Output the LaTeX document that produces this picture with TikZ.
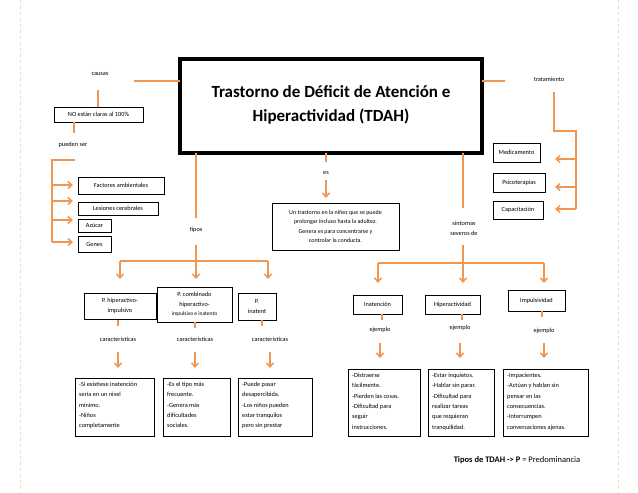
\documentclass[tikz,border=0pt]{standalone}
\usepackage{fontspec}
\setmainfont{Carlito}
\usetikzlibrary{arrows.meta}
\definecolor{org}{RGB}{240,150,80}
\begin{document}
\begin{tikzpicture}[x=1pt,y=-1pt,
 ln/.style={draw=org,line width=1.5pt},
 ar/.style={draw=org,line width=1.5pt,-{Straight Barb[length=4pt,width=7pt]}},
 bx/.style={draw,line width=0.8pt,inner sep=0pt},
 tx/.style={font=\fontsize{6.3}{7.5}\selectfont,align=center},
 tl/.style={font=\fontsize{6.3}{10.3}\selectfont,align=left,anchor=north west,inner sep=0pt}]
\useasboundingbox (0,0) rectangle (638,493);
\draw[org!40,dashed] (20,0)--(20,493) (618,0)--(618,493);
% title
\draw[line width=3.5pt] (180,59) rectangle (482,153);
\node[font=\bfseries\fontsize{17}{24}\selectfont,align=center] (title) at (331,105) {Trastorno de Déficit de Atención e\\Hiperactividad (TDAH)};
\coordinate (tL) at (180,81);
% causas
\node[tx] (causas) at (100,74) {causas};
\draw[ln] (134,81)--(tL);
\draw[ln] (98,90)--(98,107);
\draw[bx] (54,107) rectangle (143,122); \node[tx] (no) at (98.5,114.5) {NO están claras al 100\%};
\draw[ln] (74,122)--(74,133);
\node[tx] (pueden) at (73,145) {pueden ser};
\draw[ln] (75,160)--(52,160)--(52,242);
\foreach \y in {185,201,220,242}{\draw[ar] (52,\y)--(73,\y);}
\draw[bx] (78,177) rectangle (164,194); \node[tx] (fa) at (121,185.5) {Factores ambientales};
\draw[bx] (78,202) rectangle (158,215); \node[tx] (lc) at (118,208.5) {Lesiones cerebrales};
\draw[bx] (78,219) rectangle (111,232); \node[tx] (az) at (94.5,225.5) {Azúcar};
\draw[bx] (78,236) rectangle (111,252); \node[tx] (ge) at (94.5,244) {Genes};
% tipos
\draw[ln] (196,153)--(196,218);
\node[tx] (tipos) at (196,230) {tipos};
\draw[ln] (196,245)--(196,261) (120,261)--(268,261);
\foreach \x in {120,196,268}{\draw[ar] (\x,261)--(\x,279);}
\draw[bx] (84,293) rectangle (156,319); \node[tx,font=\fontsize{6.3}{9.5}\selectfont] at (120,306) {P. hiperactivo-\\impulsivo};
\draw[bx] (157,287) rectangle (232,322); \node[tx,font=\fontsize{6.3}{9.5}\selectfont] at (194.5,304.5) {P. combinado\\hiperactivo-\\{\fontsize{5.5}{6}\selectfont impulsivo e inatento}};
\draw[bx] (238,293) rectangle (276,320); \node[tx,font=\fontsize{6.3}{9.5}\selectfont] at (257,306.5) {P.\\inatent};
\foreach \x/\y in {118/320,195/322,262/320}{\draw[ln] (\x,\y)--(\x,\y+6);}
\foreach \x in {118,195,270}{\node[tx] at (\x,339) {características};\draw[ar] (\x,352)--(\x,368);}
\draw[bx] (75,378) rectangle (154,436); \node[tl] at (79,382) {-Si existiese inatención\\sería en un nivel\\mínimo.\\-Niños\\completamente};
\draw[bx] (163,378) rectangle (230,436); \node[tl] at (167,382) {-Es el tipo más\\frecuente.\\-Genera más\\dificultades\\sociales.};
\draw[bx] (238,378) rectangle (312,436); \node[tl] at (242,382) {-Puede pasar\\desapercibida.\\-Los niños pueden\\estar tranquilos\\pero sin prestar};
% es
\draw[ln] (326,153)--(326,162);
\node[tx] (es) at (326,173) {es};
\draw[ar] (326,180)--(326,198);
\draw[bx] (272,203) rectangle (399,250); \node[tx,font=\fontsize{6}{9.5}\selectfont] (def) at (335.5,226.5) {Un trastorno en la niñez que se puede\\prolongar incluso hasta la adultez.\\Genera es para concentrarse y\\controlar la conducta.};
% tratamiento
\draw[ln] (482,81)--(505,81);
\node[tx] (trat) at (549,79) {tratamiento};
\draw[ln] (554,92)--(554,131)--(576,131)--(576,209);
\foreach \y in {159,187,209}{\draw[ar] (576,\y)--(555,\y);}
\draw[bx] (493,143) rectangle (540,162); \node[tx] at (516.5,152.5) {Medicamento};
\draw[bx] (493,173) rectangle (545,192); \node[tx] at (519,182.5) {Psicoterapias};
\draw[bx] (493,201) rectangle (543,219); \node[tx] at (518,210) {Capacitación};
% sintomas
\draw[ln] (463,153)--(463,208);
\node[tx,font=\fontsize{6.3}{10}\selectfont] (sint) at (464,228) {síntomas\\severos de};
\draw[ln] (463,245)--(463,263) (378,263)--(544,263);
\foreach \x in {378,463,544}{\draw[ar] (\x,263)--(\x,283);}
\draw[bx] (353,295) rectangle (402,314); \node[tx] at (377.5,304.5) {Inatención};
\draw[bx] (425,295) rectangle (480,314); \node[tx] at (452.5,304.5) {Hiperactividad};
\draw[bx] (508,290) rectangle (565,311); \node[tx] at (536.5,300.5) {Impulsividad};
\foreach \x/\y in {382/314,462/314,542/311}{\draw[ln] (\x,\y)--(\x,\y+6);}
\foreach \x/\y in {380/330,460/328,544/331}{\node[tx] at (\x,\y) {ejemplo};\draw[ar] (\x,343)--(\x,358);}
\draw[bx] (348,369) rectangle (420,436); \node[tl] at (352,373) {-Distraerse\\fácilmente.\\-Pierden las cosas.\\-Dificultad para\\seguir\\instrucciones.};
\draw[bx] (428,369) rectangle (494,436); \node[tl] at (432,373) {-Estar inquietos.\\-Hablar sin parar.\\-Dificultad para\\realizar tareas\\que requieran\\tranquilidad.};
\draw[bx] (503,369) rectangle (588,436); \node[tl] at (507,373) {-Impacientes.\\-Actúan y hablan sin\\pensar en las\\consecuencias.\\-Interrumpen\\conversaciones ajenas.};
\node[font=\fontsize{8.5}{10}\selectfont] (foot) at (517,460) {\textbf{Tipos de TDAH -> P} = Predominancia};
\end{tikzpicture}
\end{document}
